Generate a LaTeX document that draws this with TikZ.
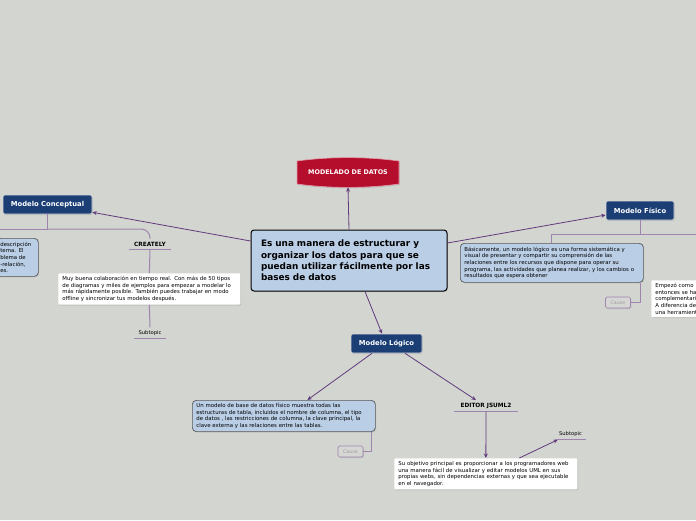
\documentclass[tikz,border=0pt]{standalone}
\usepackage{fontspec}
\setmainfont{DejaVu Sans}
\usetikzlibrary{arrows.meta,shadows}
\definecolor{canvas}{RGB}{211,213,209}
\definecolor{rootred}{RGB}{181,14,45}
\definecolor{topicblue}{RGB}{27,62,117}
\definecolor{noteblue}{RGB}{186,206,230}
\definecolor{linkpurple}{RGB}{98,58,124}
\definecolor{branchpurple}{RGB}{158,132,174}
\definecolor{causefill}{RGB}{214,214,212}
\definecolor{causetext}{RGB}{160,160,160}
\begin{document}
\begin{tikzpicture}[x=1pt,y=-1pt,
  link/.style={draw=linkpurple,line width=0.8pt,-{Stealth[length=4.5pt,width=4pt]}},
  branch/.style={draw=branchpurple,line width=1pt},
  soft/.style={drop shadow={shadow xshift=0.8pt,shadow yshift=-1pt,opacity=0.25}},
  topic/.style={soft,draw=white!85!black,line width=0.6pt,fill=topicblue,rounded corners=2pt,
    text=white,font=\fontsize{6.8}{8}\selectfont\bfseries,minimum height=19pt,inner xsep=2pt},
  note/.style={soft,anchor=north west,draw=black!65,line width=0.7pt,fill=noteblue,rounded corners=4pt,
    font=\fontsize{5.4}{6.6}\selectfont,align=left,inner xsep=4pt,inner ysep=3pt},
  whitenote/.style={note,draw=none,fill=white,rounded corners=1pt},
  sublabel/.style={font=\fontsize{5.8}{7}\selectfont\bfseries,inner xsep=0pt,inner ysep=3pt},
  subtopic/.style={font=\fontsize{5.2}{6}\selectfont,inner xsep=0pt,inner ysep=3pt},
  cause/.style={soft,draw=branchpurple,line width=0.7pt,fill=causefill,rounded corners=1.5pt,
    text=causetext,font=\fontsize{4.8}{6}\selectfont,minimum width=25pt,minimum height=11pt,inner sep=0pt}]
  \fill[canvas] (0,0) rectangle (696,520);
  \useasboundingbox (0,0) rectangle (696,520);
  \clip (0,0) rectangle (696,520);

  \path[soft,fill=rootred,draw=white!60!rootred,line width=0.6pt]
    (297,161) .. controls (330,156.5) and (366,156.5) .. (399,161) -- (399,184)
    .. controls (366,188.5) and (330,188.5) .. (297,184) -- cycle;
  \node[text=white,font=\fontsize{6.4}{8}\selectfont\bfseries,minimum width=102pt,minimum height=29pt]
    (root) at (348,172.5) {MODELADO DE DATOS};

  \node[soft,draw=black,line width=1pt,fill=noteblue,rounded corners=3pt,align=left,
    font=\fontsize{8.9}{11.3}\selectfont\bfseries,text width=176pt,inner xsep=10pt,minimum height=61pt]
    (main) at (349,260.5) {Es una manera de estructurar y\\organizar los datos para que se\\puedan utilizar fácilmente por las\\bases de datos};

  \node[topic,minimum width=89pt] (concep) at (47.5,204.5) {Modelo Conceptual};
  \node[topic,minimum width=68pt] (fisico) at (640,210.5) {Modelo Físico};
  \node[topic,minimum width=71pt] (logico) at (386.5,343.5) {Modelo Lógico};

  \draw[link] (main.north) -- (root.south);
  \draw[link] ([yshift=19.5pt]main.west) -- ([yshift=2pt]concep.south east);
  \draw[link] ([yshift=17.5pt]main.east) -- ([yshift=-4.5pt]fisico.west);
  \draw[link] ([xshift=16pt]main.south) -- ([xshift=-4.5pt]logico.north);

  \node[note,text width=34pt,minimum height=38pt] (cnote) at (-4,238)
    {descripción\\tema. El\\blema de\\-relación,\\es.};
  \node[sublabel,minimum width=42pt] (creately) at (150,244) {CREATELY};
  \node[whitenote,text width=174pt,minimum height=31pt] (cwhite) at (58,273)
    {Muy buena colaboración en tiempo real. Con más de 50 tipos\\de diagramas y miles de ejemplos para empezar a modelar lo\\más rápidamente posible. También puedes trabajar en modo\\offline y sincronizar tus modelos después.};
  \node[subtopic,minimum width=32pt] (sub1) at (150,333) {Subtopic};
  \coordinate (cjoin) at (47.5,229);
  \coordinate (cleft) at (-5,229);
  \draw[branch] (concep.south) -- (cjoin);
  \draw[branch] (cjoin) -- (cleft);
  \draw[branch,rounded corners=9pt] (cjoin) -| (creately.north);
  \draw[branch] (creately.south west) -- (creately.south east);
  \draw[branch] (creately.south) -- (cwhite.north);
  \draw[branch] (cwhite.south) -- (sub1.north);
  \draw[branch] (sub1.south west) -- (sub1.south east);

  \node[note,text width=175pt,minimum height=39pt] (fnote) at (460,243)
    {Básicamente, un modelo lógico es una forma sistemática y\\visual de presentar y compartir su comprensión de las\\relaciones entre los recursos que dispone para operar su\\programa, las actividades que planea realizar, y los cambios o\\resultados que espera obtener};
  \node[cause] (fcause) at (618,302.5) {Cause};
  \node[whitenote,text width=60pt,minimum height=36pt] (fwhite) at (651,280)
    {Empezó como\\entonces se ha\\complementari\\A diferencia de\\una herramient};
  \coordinate (fjoin) at (640,234);
  \coordinate (fright) at (700,234);
  \draw[branch] (fisico.south) -- (fjoin);
  \draw[branch] (fjoin) -- (fright);
  \draw[branch] (fjoin) -| (fnote.north);
  \draw[branch] ([xshift=-3pt]fnote.south east) |- (fcause.east);

  \node[note,text width=175pt,minimum height=31pt] (lnote) at (192,400)
    {Un modelo de base de datos físico muestra todas las\\estructuras de tabla, incluidos el nombre de columna, el tipo\\de datos , las restricciones de columna, la clave principal, la\\clave externa y las relaciones entre las tablas.};
  \node[cause] (lcause) at (350.5,451.5) {Cause};
  \node[sublabel,minimum width=63pt] (editor) at (486,406) {EDITOR JSUML2};
  \node[whitenote,text width=175pt,minimum height=31pt] (ewhite) at (394,458)
    {Su objetivo principal es proporcionar a los programadores web\\una manera fácil de visualizar y editar modelos UML en sus\\propias webs, sin dependencias externas y que sea ejecutable\\en el navegador.};
  \node[subtopic,minimum width=31pt] (sub2) at (570.5,434) {Subtopic};

  \draw[link] ([xshift=-14.5pt]logico.south) -- ([xshift=23.5pt]lnote.north);
  \draw[link] ([xshift=18.5pt]logico.south) -- ([xshift=-10pt]editor.north);
  \draw[branch] ([xshift=-4pt]lnote.south east) |- (lcause.east);
  \draw[branch] (editor.south west) -- (editor.south east);
  \draw[link] (editor.south) -- (ewhite.north);
  \draw[link] ([xshift=33.5pt]ewhite.north) -- ([xshift=3pt]sub2.south west);
  \draw[branch] (sub2.south west) -- (sub2.south east);
\end{tikzpicture}
\end{document}
